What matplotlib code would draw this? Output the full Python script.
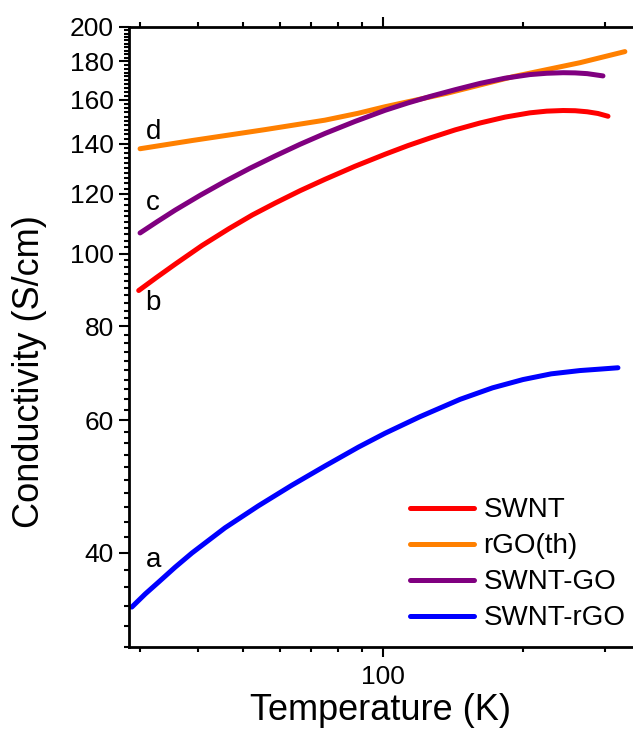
import matplotlib
matplotlib.use("Agg")
import matplotlib.pyplot as plt
from matplotlib.ticker import FixedLocator, FixedFormatter, MultipleLocator, NullFormatter

# ---- data ----
T_swnt = [29.8, 32.6, 35.7, 40.8, 46.6, 52.3, 58.6, 66.3, 75, 87, 101, 113, 126.2,
          143, 161.7, 183, 207, 225, 244, 259, 275, 290, 304.8]
s_swnt = [89.3, 93.0, 96.8, 102.5, 107.9, 112.5, 116.7, 121.2, 125.5, 130.6, 135.5,
          139.1, 142.4, 146.0, 149.1, 151.8, 153.8, 154.6, 154.9, 154.8, 154.3, 153.5, 152.2]

T_rgo = [30.0, 38.8, 55.7, 75.0, 88.4, 101, 137.3, 190.4, 265.2, 331.4]
s_rgo = [137.8, 141.3, 146.1, 150.4, 153.6, 156.7, 163.3, 171.8, 179.3, 185.5]

T_go = [30.0, 32.7, 35.7, 40.4, 45.7, 51.7, 58.6, 66.3, 75, 87, 101, 113, 126.2,
        143, 161.7, 183, 207, 225, 244, 259, 275, 297.3]
s_go = [106.5, 110.3, 114.2, 119.5, 124.7, 129.8, 134.8, 139.7, 144.4, 149.8, 155.0,
        158.5, 161.7, 165.1, 168.3, 171.0, 172.9, 173.6, 173.9, 173.8, 173.4, 172.2]

T_srgo = [28.8, 30.8, 32.9, 35.7, 38.8, 45.7, 53.9, 63.6, 75.0, 88.5, 101, 120.1,
          146.4, 172, 200, 230, 265.2, 292, 320.2]
s_srgo = [33.9, 35.3, 36.6, 38.3, 40.0, 43.2, 46.2, 49.2, 52.2, 55.3, 57.7, 60.7,
          64.0, 66.3, 68.0, 69.2, 69.9, 70.2, 70.5]

series_labels = ["SWNT", "rGO(th)", "SWNT-GO", "SWNT-rGO"]
series_colors = ["#FF0000", "#FF8000", "#800080", "#0000FF"]

y_major = [40, 60, 80, 100, 120, 140, 160, 180, 200]
x_major = [100]
x_minor = [30, 40, 50, 60, 70, 80, 90, 200, 300]

plt.rcParams["font.family"] = ["Liberation Sans", "DejaVu Sans"]

fig = plt.figure(figsize=(6.33, 7.29), dpi=100)
ax = fig.add_axes([129/633, 1-647/729, 1-129/633, (647-27)/729])

for T, s, lab, c in zip([T_swnt, T_rgo, T_go, T_srgo],
                        [s_swnt, s_rgo, s_go, s_srgo],
                        series_labels, series_colors):
    ax.plot(T, s, color=c, lw=3.6, label=lab, solid_capstyle="round",
            solid_joinstyle="round")

ax.set_xscale("log")
ax.set_yscale("log")
ax.set_xlim(28.4, 345)
ax.set_ylim(30, 200)

ax.yaxis.set_major_locator(FixedLocator(y_major))
ax.yaxis.set_major_formatter(FixedFormatter([str(v) for v in y_major]))
ax.yaxis.set_minor_locator(MultipleLocator(2))
ax.yaxis.set_minor_formatter(NullFormatter())

ax.xaxis.set_major_locator(FixedLocator(x_major))
ax.xaxis.set_major_formatter(FixedFormatter([str(v) for v in x_major]))
ax.xaxis.set_minor_locator(FixedLocator(x_minor))
ax.xaxis.set_minor_formatter(NullFormatter())

for sp in ["left", "bottom", "top"]:
    ax.spines[sp].set_linewidth(2.0)
ax.spines["right"].set_visible(False)

ax.tick_params(which="both", direction="out", top=True, right=False, width=1.5)
ax.tick_params(which="major", length=7, labelsize=19, pad=4)
ax.tick_params(which="minor", length=3.5)
ax.tick_params(axis="x", which="major", pad=6)

ax.set_xlabel("Temperature (K)", fontsize=26)
ax.set_ylabel("Conductivity (S/cm)", fontsize=26)
ax.xaxis.set_label_coords(0.5, -0.075)
ax.yaxis.set_label_coords(-0.163, 0.444)

for txt, yv in zip(["d", "c", "b", "a"], [145.2, 116.8, 86.0, 39.1]):
    ax.text(32.0, yv, txt, fontsize=20, ha="center", va="center")

leg = ax.legend(loc="center left", bbox_to_anchor=(0.5575, 0.1335), frameon=False,
                fontsize=20, handlelength=2.3, handletextpad=0.35, labelspacing=0.36,
                borderpad=0, borderaxespad=0)
for h in leg.get_lines():
    h.set_linewidth(3.6)
    h.set_solid_capstyle("round")

fig.savefig("out.png", dpi=100)
